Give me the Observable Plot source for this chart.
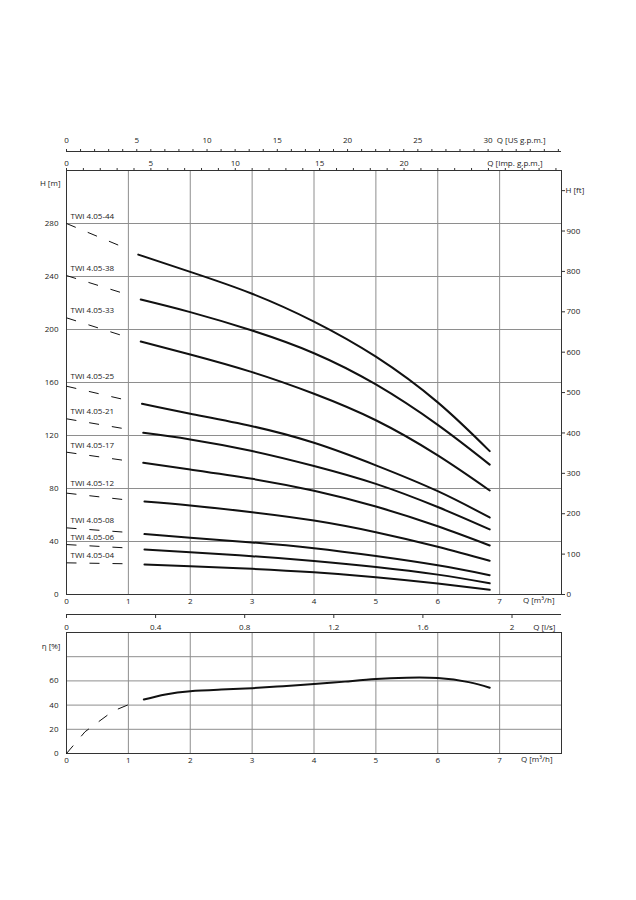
<!DOCTYPE html>
<html><head><meta charset="utf-8">
<script src="https://cdn.jsdelivr.net/npm/d3@7"></script>
<script src="https://cdn.jsdelivr.net/npm/@observablehq/plot@0.6"></script>
<style>
body{margin:0;background:#fff;}
#wrap{position:relative;width:636px;height:900px;}
#main{position:absolute;left:0;top:0;}
#eta{position:absolute;left:0;top:612px;}
</style></head><body><div id="wrap"><div id="main"></div><div id="eta"></div></div>
<script>
// ---- data ----
const models = ["TWI 4.05-44","TWI 4.05-38","TWI 4.05-33","TWI 4.05-25","TWI 4.05-21","TWI 4.05-17","TWI 4.05-12","TWI 4.05-08","TWI 4.05-06","TWI 4.05-04"];
const qStart = [1.16,1.2,1.2,1.22,1.24,1.24,1.26,1.26,1.26,1.26];
const headStart = [256.5,222.6,190.9,143.9,122,99.4,70.2,45.6,34,22.6];
const qCurve = [2,3,4,5,6,6.84];
const head44 = [243.5,227,206,179.5,145,108.2];
const head38 = [213.1,199.2,182.1,158.5,128,98];
const head33 = [181.1,167.8,151.5,131.5,105,78.5];
const head25 = [136.4,127,114.5,97.5,78,58.1];
const head21 = [117,108.3,97,83.5,66,49.1];
const head17 = [94.3,87.3,78.3,66.4,51.5,37];
const head12 = [67.2,62.1,55.8,47,36,25.4];
const head08 = [42.9,39.3,34.9,29,22,14.6];
const head06 = [31.8,28.9,25.3,20.8,15,8.5];
const head04 = [21.4,19.4,16.8,13.1,8.3,3.5];
const heads = [head44,head38,head33,head25,head21,head17,head12,head08,head06,head04];
// dashed extrapolation toward Q = 0
const dashQ0 = 0, dashQ1 = 0.95;
const dashH0 = [280,240.7,208.8,157.2,132.6,107.4,76.5,50.3,37.7,23.9];
const dashH1 = [261.5,226.9,194.7,146.9,125,101.1,71.5,47,35.2,23.2];
// labels that sit higher to clear a grid line
const raisedLabels = ["TWI 4.05-25","TWI 4.05-12"];
// efficiency
const etaQ = [1.25,1.6,2,2.5,3,3.5,4,4.5,5,5.5,6,6.5,6.84];
const etaVal = [44.6,48.8,51.5,52.8,54,55.6,57.4,59.4,61.5,62.6,62.3,59,54.3];
const etaDashQ = [0,0.3,0.75,1.15];
const etaDashVal = [0,18,35,43.5];
// ticks / labels
const qTicks = [0,1,2,3,4,5,6,7];
const qGrid = [1,2,3,4,5,6,7];
const hTicks = [0,40,80,120,160,200,240,280];
const hGrid = [40,80,120,160,200,240,280];
const ftTicks = [0,100,200,300,400,500,600,700,800,900,1000];
const ftLabels = [0,100,200,300,400,500,600,700,800,900];
const usTicks = d3.range(0,36);
const usLabels = [0,5,10,15,20,25,30];
const impTicks = d3.range(0,30);
const impLabels = [0,5,10,15,20];
const lsTicks = [0,0.4,0.8,1.2,1.6,2];
const lsLabels = ["0","0.4","0.8","1.2","1.6","2"];
const etaTicks = [0,20,40,60];
const etaGrid = [20,40,60,80];

// unit conversions (to m³/h and m)
const US = 0.2271247, IMP = 0.2727654, LPS = 3.6, FT = 0.3048;

const GRID = "#8e8e8e", FRAME = "#333", INK = "#111";
const style = {fontFamily:"'Open Sans', sans-serif", fontSize:"8px", color:"#1a1a1a", background:"transparent", overflow:"visible"};

const headRows = [];
models.forEach((m,i) => {
  headRows.push({model:m, q:qStart[i], h:headStart[i]});
  heads[i].forEach((h,j) => headRows.push({model:m, q:qCurve[j], h}));
});
const dashRows = models.map((m,i) => ({model:m, q0:dashQ0, h0:dashH0[i], q1:dashQ1, h1:dashH1[i]}));
const etaRows = etaQ.map((q,i) => ({q, e:etaVal[i]}));
const etaDashRows = etaDashQ.map((q,i) => ({q, e:etaDashVal[i]}));
const raised = new Set(raisedLabels);

const yMax = 320;
const main = Plot.plot({
  width:636, height:612, marginTop:170, marginBottom:18, marginLeft:66, marginRight:75,
  x:{domain:[0,8], axis:null, label:null},
  y:{domain:[0,yMax], axis:null, label:null},
  style,
  marks:[
    Plot.gridX(qGrid, {stroke:GRID, strokeOpacity:1}),
    Plot.gridY(hGrid, {stroke:GRID, strokeOpacity:1}),
    Plot.frame({stroke:FRAME}),
    // US gpm axis
    Plot.ruleY([yMax], {dy:-19, stroke:FRAME}),
    Plot.axisX(usTicks.map(d => d*US), {anchor:"top", tickSize:3, dy:-19, fill:"none", stroke:FRAME, label:null}),
    Plot.text(usLabels, {x:d => d*US, text:d => String(d), frameAnchor:"top", dy:-33}),
    Plot.text(["Q [US g.p.m.]"], {text:d => d, frameAnchor:"top-right", textAnchor:"end", dx:-16, dy:-33}),
    // Imp gpm axis
    Plot.axisX(impTicks.map(d => d*IMP), {anchor:"top", tickSize:3, fill:"none", stroke:FRAME, label:null}),
    Plot.text(impLabels, {x:d => d*IMP, text:d => String(d), frameAnchor:"top", dy:-10}),
    Plot.text(["Q [Imp. g.p.m.]"], {text:d => d, frameAnchor:"top-right", textAnchor:"end", dx:-19, dy:-10}),
    // left H [m]
    Plot.axisY(hTicks, {anchor:"left", tickSize:0, tickPadding:8, label:null}),
    Plot.text(["H [m]"], {text:d => d, frameAnchor:"top-left", textAnchor:"end", dx:-6, dy:10}),
    // right H [ft]
    Plot.axisY(ftTicks.map(d => d*FT), {anchor:"right", tickSize:3, fill:"none", stroke:FRAME, label:null}),
    Plot.text(ftLabels, {y:d => d*FT, text:d => String(d), frameAnchor:"right", textAnchor:"start", dx:5}),
    Plot.text(["H [ft]"], {text:d => d, frameAnchor:"top-right", textAnchor:"start", dx:4, dy:17}),
    // bottom Q
    Plot.axisX(qTicks, {anchor:"bottom", tickSize:0, tickPadding:4, label:null}),
    Plot.text(["Q [m³/h]"], {text:d => d, frameAnchor:"bottom-right", textAnchor:"end", dx:-7, dy:8}),
    // curves
    Plot.link(dashRows, {x1:"q0", y1:"h0", x2:"q1", y2:"h1", stroke:INK, strokeWidth:1, strokeDasharray:"10,13"}),
    Plot.line(headRows, {x:"q", y:"h", z:"model", curve:"natural", stroke:INK, strokeWidth:2}),
    Plot.text(dashRows, {filter:d => !raised.has(d.model), x:"q0", y:"h0", text:"model", textAnchor:"start", dx:4, dy:-7}),
    Plot.text(dashRows, {filter:d => raised.has(d.model), x:"q0", y:"h0", text:"model", textAnchor:"start", dx:4, dy:-10})
  ]
});
document.getElementById("main").append(main);

const eMax = 100;
const eta = Plot.plot({
  width:636, height:161, marginTop:20, marginBottom:20, marginLeft:66, marginRight:75,
  x:{domain:[0,8], axis:null, label:null},
  y:{domain:[0,eMax], axis:null, label:null},
  style,
  marks:[
    Plot.gridX(qGrid, {stroke:GRID, strokeOpacity:1}),
    Plot.gridY(etaGrid, {stroke:GRID, strokeOpacity:1}),
    Plot.frame({stroke:FRAME}),
    // l/s axis
    Plot.ruleY([eMax], {dy:-18, stroke:FRAME}),
    Plot.axisX(lsTicks.map(d => d*LPS), {anchor:"top", tickSize:3, dy:-15, fill:"none", stroke:FRAME, label:null}),
    Plot.text(lsTicks, {x:d => d*LPS, text:d => lsLabels[lsTicks.indexOf(d)], frameAnchor:"top", dy:-8}),
    Plot.text(["Q [l/s]"], {text:d => d, frameAnchor:"top-right", textAnchor:"end", dx:-6, dy:-8}),
    Plot.axisY(etaTicks, {anchor:"left", tickSize:0, tickPadding:8, label:null}),
    Plot.text(["η [%]"], {text:d => d, frameAnchor:"top-left", textAnchor:"end", dx:-6, dy:11}),
    Plot.axisX(qTicks, {anchor:"bottom", tickSize:0, tickPadding:4, label:null}),
    Plot.text(["Q [m³/h]"], {text:d => d, frameAnchor:"bottom-right", textAnchor:"end", dx:-9, dy:8}),
    Plot.line(etaDashRows, {x:"q", y:"e", stroke:INK, strokeWidth:1, strokeDasharray:"10,13"}),
    Plot.line(etaRows, {x:"q", y:"e", curve:"natural", stroke:INK, strokeWidth:2})
  ]
});
document.getElementById("eta").append(eta);
</script></body></html>
